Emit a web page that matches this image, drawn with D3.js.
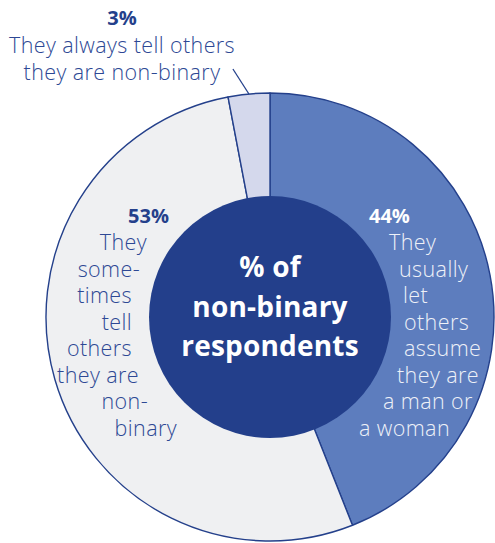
<!DOCTYPE html>
<html>
<head>
<meta charset="utf-8">
<script src="https://cdn.jsdelivr.net/npm/d3@7"></script>
<style>
  html, body { margin: 0; padding: 0; background: #fff; }
  svg { display: block; }
  text { font-family: "Open Sans", Lato, sans-serif; }
</style>
</head>
<body>
<svg id="chart"></svg>
<script>
// data
const categories = ["usually let others assume", "sometimes tell others", "always tell others"]
const shares = [44, 53, 3]
const pctLabels = ["44%", "53%", "3%"]
const labelLines = [
    ["They", "usually", "let", "others", "assume", "they are", "a man or", "a woman"],
    ["They", "some-", "times", "tell", "others", "they are", "non-", "binary"],
    ["They always tell others", "they are non-binary"]
]
const centreLines = ["% of", "non-binary", "respondents"]

const width = 495, height = 543
const cx = 270, cy = 317
const outerR = 224, innerR = 121

const fills = ["#5d7dbe", "#eff0f2", "#d4d8ec"]
const navy = "#24408b"
const textNavy = "#2d4894"

const svg = d3.select("#chart")
    .attr("width", width)
    .attr("height", height)
    .attr("viewBox", `0 0 ${width} ${height}`)

const g = svg.append("g").attr("transform", `translate(${cx},${cy})`)

const pie = d3.pie().sort(null).value(d => d)
const arcs = pie(shares)
const arc = d3.arc().innerRadius(0).outerRadius(outerR)

//slices
g.selectAll("path.slice")
    .data(arcs).enter().append("path")
    .attr("class", "slice")
    .attr("d", arc)
    .attr("fill", (d, i) => fills[i])
    .attr("stroke", navy)
    .attr("stroke-width", 1.4)
    .attr("stroke-linejoin", "round")

//centre disc
g.append("circle")
    .attr("r", innerR)
    .attr("fill", "#233f8b")

g.append("g").selectAll("text")
    .data(centreLines).enter().append("text")
    .attr("text-anchor", "middle")
    .attr("y", (d, i) => -40 + i * 39.5)
    .attr("fill", "#fff")
    .attr("font-weight", 700)
    .attr("font-size", 28)
    .attr("letter-spacing", 0.2)
    .text(d => d)

// label layout (line starts, relative to chart centre), kept apart from data
const lineH = 26.5
const labelLayout = [
    { pct: [99, -94], anchor: "start", xs: [119, 129, 133, 134, 134, 127, 113, 89], y0: -67, pctAnchor: "start", colour: "#eef1f8", pctColour: "#fff" },
    { pct: [-101, -94], anchor: "end", xs: [-123, -130, -138, -138, -138, -131, -122, -93], y0: -67, pctAnchor: "end", colour: textNavy, pctColour: navy },
    { pct: [-148, -292], anchor: "middle", xs: [-148, -148], y0: -264, pctAnchor: "middle", colour: textNavy, pctColour: navy }
]

labelLayout.forEach((L, i) => {
    const grp = g.append("g")
    grp.append("text")
        .attr("x", L.pct[0])
        .attr("y", L.pct[1])
        .attr("text-anchor", L.pctAnchor)
        .attr("font-weight", 700)
        .attr("font-size", 20)
        .attr("fill", L.pctColour)
        .text(pctLabels[i])
    grp.selectAll("text.line")
        .data(labelLines[i]).enter().append("text")
        .attr("class", "line")
        .attr("x", (d, j) => L.xs[j])
        .attr("y", (d, j) => L.y0 + j * lineH)
        .attr("text-anchor", L.anchor)
        .attr("font-weight", 300)
        .attr("font-size", 21.5)
        .attr("letter-spacing", 0.4)
        .attr("fill", L.colour)
        .text(d => d)
})

//leader line to the small slice
const small = arcs[2]
const mid = (small.startAngle + small.endAngle) / 2
const ex = Math.sin(mid) * outerR, ey = -Math.cos(mid) * outerR
g.append("line")
    .attr("x1", ex - 16).attr("y1", ey - 25)
    .attr("x2", ex).attr("y2", ey)
    .attr("stroke", navy)
    .attr("stroke-width", 1.3)
</script>
</body>
</html>
